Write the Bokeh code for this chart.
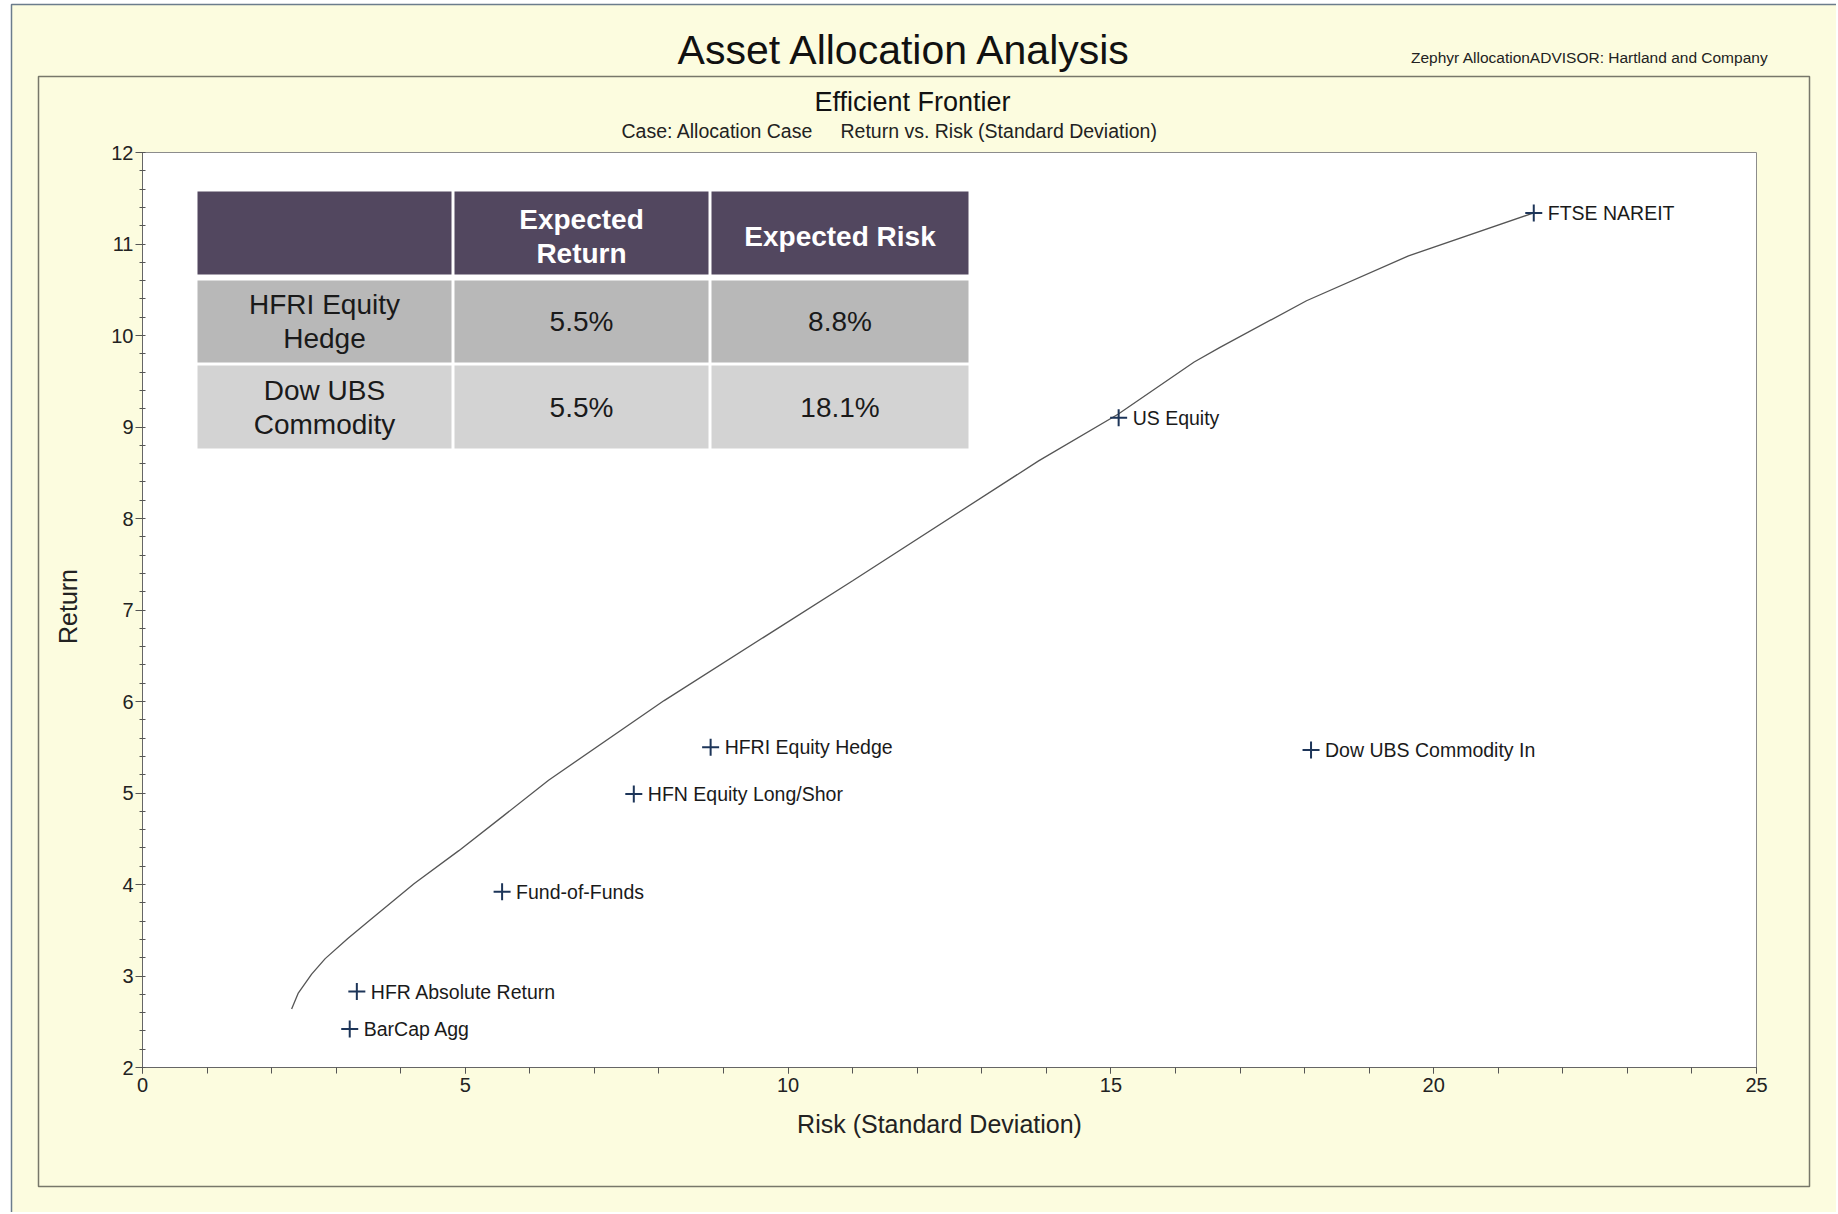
import math
from bokeh.plotting import figure
from bokeh.models import Label, ColumnDataSource, Range1d, FixedTicker, LinearAxis
from bokeh.embed import file_html
from bokeh.resources import INLINE
from bokeh.core.properties import value

# ---------------- data ----------------
asset_names = ["FTSE NAREIT", "US Equity", "HFRI Equity Hedge", "Dow UBS Commodity In",
               "HFN Equity Long/Shor", "Fund-of-Funds", "HFR Absolute Return", "BarCap Agg"]
asset_risk = [21.55, 15.12, 8.8, 18.1, 7.61, 5.57, 3.32, 3.21]
asset_return = [11.34, 9.10, 5.5, 5.47, 4.99, 3.92, 2.83, 2.42]

frontier_risk = [2.31, 2.41, 2.62, 2.83, 3.18, 3.52, 4.21, 4.90, 5.59, 6.29, 8.08, 11.0,
                 13.88, 15.11, 16.29, 16.69, 18.03, 19.61, 21.55]
frontier_return = [2.64, 2.81, 3.02, 3.19, 3.41, 3.61, 4.01, 4.37, 4.75, 5.14, 6.01, 7.32,
                   8.63, 9.14, 9.71, 9.87, 10.38, 10.87, 11.34]

x_ticks = [0, 5, 10, 15, 20, 25]
y_ticks = [2, 3, 4, 5, 6, 7, 8, 9, 10, 11, 12]

table_header = ["", "Expected\nReturn", "Expected Risk"]
table_assets = ["HFRI Equity\nHedge", "Dow UBS\nCommodity"]
table_exp_return = ["5.5%", "5.5%"]
table_exp_risk = ["8.8%", "18.1%"]

title = "Asset Allocation Analysis"
credit = "Zephyr AllocationADVISOR: Hartland and Company"
subtitle = "Efficient Frontier"
case_text = "Case: Allocation Case"
case_desc = "Return vs. Risk (Standard Deviation)"
x_label = "Risk (Standard Deviation)"
y_label = "Return"

# ---------------- layout (page pixels) ----------------
W, H = 1836, 1212
FL, FR, FT, FB = 142, 1756, 152, 1067  # plot area in page pixels
X0, X1, Y0, Y1 = 0, 25, 2, 12
FONT = "Liberation Sans"
CREAM = "#fcfcdf"
TXT = "#1a1a1a"


def px2x(X):
    return X0 + (X - FL) * (X1 - X0) / (FR - FL)


def px2y(Y):
    return Y1 - (Y - FT) * (Y1 - Y0) / (FB - FT)


p = figure(width=W, height=H, output_backend="svg", toolbar_location=None,
           x_range=Range1d(px2x(0), px2x(W)), y_range=Range1d(px2y(H), px2y(0)),
           x_axis_location=None, y_axis_location=None,
           min_border=0, min_border_left=0, min_border_right=0,
           min_border_top=0, min_border_bottom=0)
p.background_fill_color = "white"
p.border_fill_color = "white"
p.outline_line_color = None
p.grid.visible = False

# page panels
p.quad(left=[px2x(11)], right=[px2x(W + 50)], top=[px2y(4)], bottom=[px2y(H + 50)],
       fill_color=CREAM, line_color="#6b7c8c", line_width=1.5)
p.quad(left=[px2x(38)], right=[px2x(1809)], top=[px2y(76)], bottom=[px2y(1186)],
       fill_alpha=0, line_color="#77776a", line_width=1.5)
# plot area
p.quad(left=[X0], right=[X1], top=[Y1], bottom=[Y0], fill_color="white",
       line_color="#8c8c8c", line_width=1)

# axes
xaxis = LinearAxis(fixed_location=Y0, bounds=(X0, X1),
                   ticker=FixedTicker(ticks=x_ticks, minor_ticks=list(range(X0, X1 + 1))))
yaxis = LinearAxis(fixed_location=X0, bounds=(Y0, Y1),
                   ticker=FixedTicker(ticks=y_ticks,
                                      minor_ticks=[round(Y0 + 0.2 * i, 2)
                                                   for i in range(int((Y1 - Y0) / 0.2) + 1)]))
for ax in (xaxis, yaxis):
    ax.axis_line_color = "#666666"
    ax.major_tick_line_color = "#555555"
    ax.minor_tick_line_color = "#555555"
    ax.major_label_text_font = FONT
    ax.major_label_text_font_size = "20px"
    ax.major_label_text_color = "#222222"
xaxis.major_tick_out = 6
xaxis.major_tick_in = 0
xaxis.minor_tick_out = 6
xaxis.minor_tick_in = 0
xaxis.major_label_standoff = 4
yaxis.major_tick_out = 7
yaxis.major_tick_in = 0
yaxis.minor_tick_out = 3
yaxis.minor_tick_in = 3
yaxis.major_label_standoff = 2
p.add_layout(xaxis, "below")
p.add_layout(yaxis, "left")

# titles and axis labels
def add_label(X, Y, text, size, align="center", color=TXT, style="normal", angle=0.0):
    p.add_layout(Label(x=px2x(X), y=px2y(Y), text=text, text_font=FONT, text_font_size=size,
                       text_align=align, text_baseline="middle", text_color=color,
                       text_font_style=style, angle=angle))


add_label(905, 49, title, "41px", color="#111111")
add_label(1768, 57.4, credit, "15.5px", align="right", color="#222222")
add_label(912, 101, subtitle, "27px", color="#111111")
add_label(621, 130, case_text, "19.5px", align="left", color="#222222")
add_label(840, 130, case_desc, "19.5px", align="left", color="#222222")
add_label(939, 1123, x_label, "25px", color="#222222")
add_label(67, 606, y_label, "25px", color="#222222", angle=math.pi / 2)

# table
cols_px = [(197, 451), (454, 708), (711, 968)]
rows_px = [(191, 274), (280, 362), (365, 448)]
row_colors = ["#52475f", "#b8b8b8", "#d3d3d3"]
ql, qr, qt, qb, qc = [], [], [], [], []
for ri, (rt, rb) in enumerate(rows_px):
    for (cl, cr) in cols_px:
        ql.append(px2x(cl)); qr.append(px2x(cr)); qt.append(px2y(rt)); qb.append(px2y(rb))
        qc.append(row_colors[ri])
p.quad(left=ql, right=qr, top=qt, bottom=qb, fill_color=qc, line_color=None)

cells = [table_header,
         [table_assets[0], table_exp_return[0], table_exp_risk[0]],
         [table_assets[1], table_exp_return[1], table_exp_risk[1]]]
for ri, row in enumerate(cells):
    rt, rb = rows_px[ri]
    cy = (rt + rb) / 2 + (3 if ri == 0 else 0)
    for ci, txt in enumerate(row):
        if not txt:
            continue
        cx = (cols_px[ci][0] + cols_px[ci][1]) / 2
        lines = txt.split("\n")
        n = len(lines)
        for li, line in enumerate(lines):
            ly = cy + (li - (n - 1) / 2) * 34
            add_label(cx, ly, line, "28px", style="bold" if ri == 0 else "normal",
                      color="white" if ri == 0 else TXT)

# frontier
p.line(frontier_risk, frontier_return, line_color="#555555", line_width=1.3)

# assets
src = ColumnDataSource(dict(x=asset_risk, y=asset_return, name=asset_names))
p.scatter("x", "y", source=src, marker="cross", size=17, line_width=2, line_color="#1d3559")
p.text("x", "y", text="name", source=src, x_offset=14, text_font=value(FONT),
       text_font_size="19.5px", text_baseline="middle", text_align="left", text_color=TXT)

html = file_html(p, INLINE)
open("out.html", "w").write(html)
